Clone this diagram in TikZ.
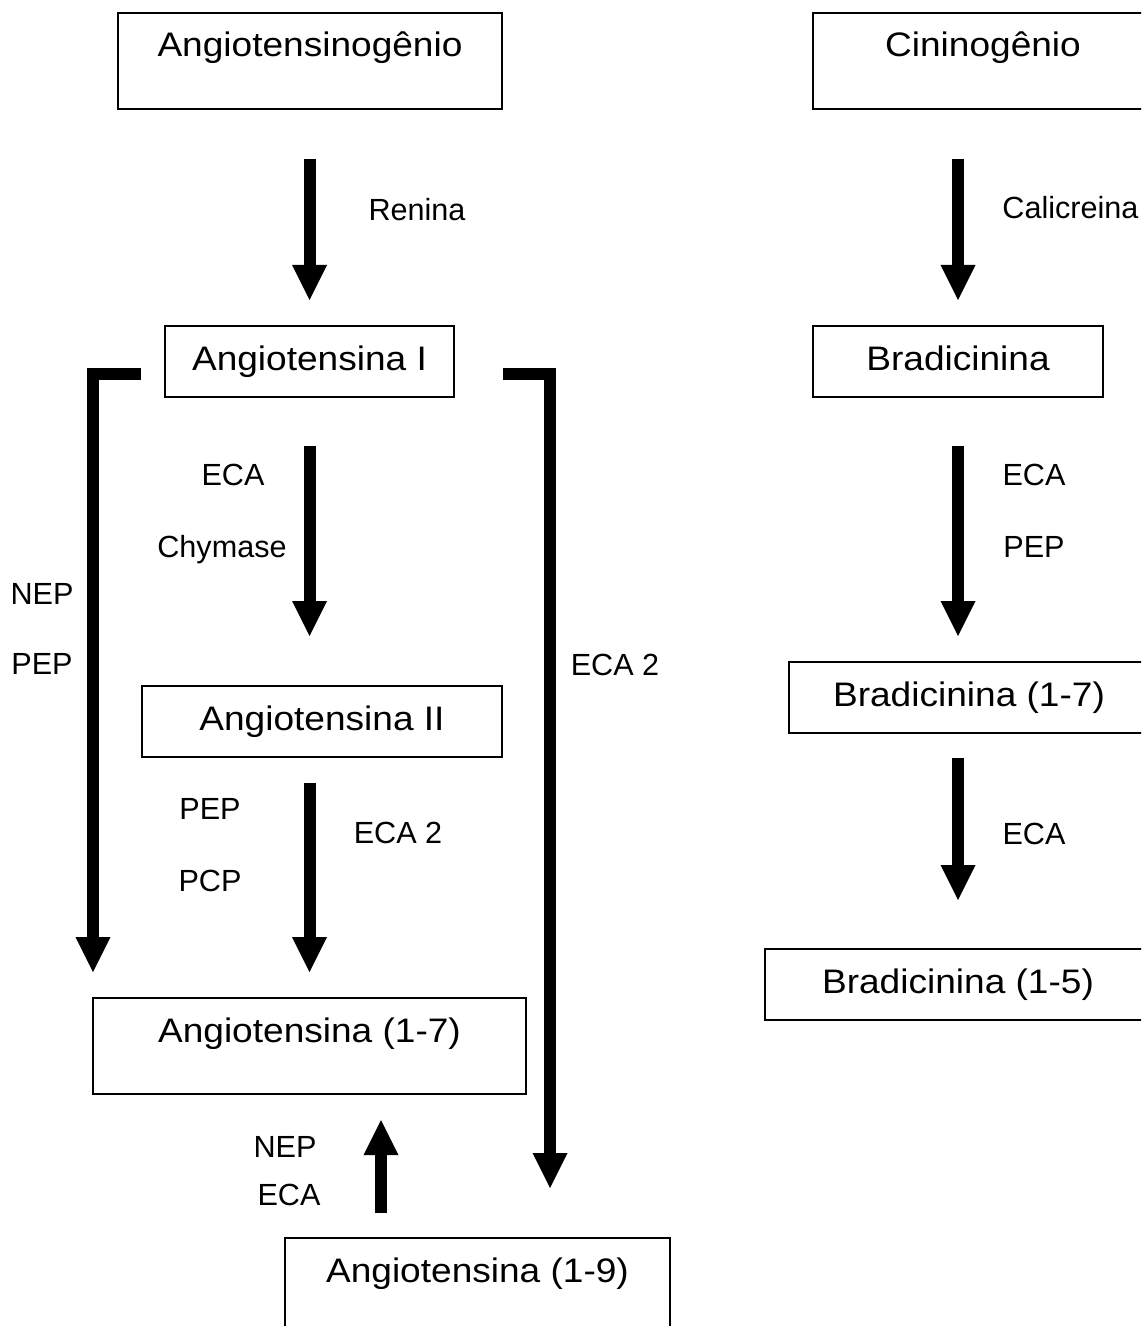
\documentclass[tikz,border=0pt]{standalone}
\usepackage{fontspec}
\setmainfont{Liberation Sans}
\newfontfamily\boxfont[FakeStretch=1.09]{Liberation Sans}
\usetikzlibrary{positioning, arrows.meta}

\begin{document}
\begin{tikzpicture}[
    x=0.5pt, y=-0.5pt,
    arrow/.style={-{Triangle[length=17.5pt, width=17.5pt, line width=0pt]}, line width=6pt},
    block/.style={rectangle, draw=black, line width=1pt, inner sep=0pt, anchor=north west,
                  text height=22pt, text depth=13.5pt, font=\boxfont\fontsize{17}{20}\selectfont},
    tallblock/.style={block, text depth=26pt},
    enzyme/.style={anchor=base, font=\fontsize{15.3}{18}\selectfont}
]
    \useasboundingbox (0,0) rectangle (1141,1326);
    \clip (0,0) rectangle (1141,1326);

    % === Angiotensin side ===
    \node[tallblock, minimum width=192pt] (angtgen) at (117,12) {Angiotensinogênio};
    \node[block, minimum width=144.5pt] (angI) at (164,325) {Angiotensina I};
    \node[block, minimum width=180pt] (angII) at (141,685) {Angiotensina II};
    \node[tallblock, minimum width=216.5pt] (ang17) at (92,997) {Angiotensina (1-7)};
    \node[tallblock, minimum width=192.5pt] (ang19) at (284,1237) {Angiotensina (1-9)};

    \draw[arrow, shorten <=24.5pt, shorten >=12.5pt] (angI.north |- angtgen.south) -- (angI.north);
    \node[enzyme] (renina) at (417,221) {Renina};

    \draw[arrow, shorten <=24pt, shorten >=24.5pt] (angI.south) -- (angI.south |- angII.north);
    \node[enzyme] (ecaI) at (233,485) {ECA};
    \node[enzyme] (chymase) at (222,557) {Chymase};

    \draw[arrow, shorten <=12.5pt, shorten >=12.5pt] (angI.south |- angII.south) -- (angI.south |- ang17.north);
    \node[enzyme] (pepII) at (210,819) {PEP};
    \node[enzyme] (pcpII) at (210,891) {PCP};
    \node[enzyme] (eca2II) at (398,843) {ECA 2};

    % elbows out of Angiotensina I
    \draw[arrow, shorten >=12.5pt] ([xshift=-11.5pt, yshift=-6pt]angI.west) -| ([xshift=0.5pt]ang17.north west);
    \node[enzyme] (nepI) at (42,604) {NEP};
    \node[enzyme] (pepI) at (42,674) {PEP};

    \draw[arrow, shorten >=24.5pt] ([xshift=24pt, yshift=-6pt]angI.east) -| ([xshift=36.25pt]ang19.north);
    \node[enzyme] (eca2I) at (615,675) {ECA 2};

    \coordinate (upfoot) at ([xshift=48.5pt]ang19.north west);
    \draw[arrow, shorten <=12pt, shorten >=12.5pt] (upfoot) -- (upfoot |- ang17.south);
    \node[enzyme] (nep19) at (285,1157) {NEP};
    \node[enzyme] (eca19) at (289,1205) {ECA};

    % === Kinin side ===
    \node[tallblock, minimum width=170pt] (cin) at (812,12) {Cininogênio};
    \node[block, minimum width=145pt] (bk) at (812,325) {Bradicinina};
    \node[block, minimum width=180pt] (bk17) at (788,661) {Bradicinina (1-7)};
    \node[block, minimum width=193pt] (bk15) at (764,948) {Bradicinina (1-5)};

    \draw[arrow, shorten <=24.5pt, shorten >=12.5pt] (bk.north |- cin.south) -- (bk.north);
    \node[enzyme, anchor=base west, inner xsep=0pt] (calicreina) at (1002,219) {Calicreina};

    \draw[arrow, shorten <=24pt, shorten >=12.5pt] (bk.south) -- (bk.south |- bk17.north);
    \node[enzyme] (ecaBk) at (1034,485) {ECA};
    \node[enzyme] (pepBk) at (1034,557) {PEP};

    \draw[arrow, shorten <=12pt, shorten >=24pt] (bk15.north |- bk17.south) -- (bk15.north);
    \node[enzyme] (ecaBk17) at (1034,844) {ECA};

\end{tikzpicture}
\end{document}
